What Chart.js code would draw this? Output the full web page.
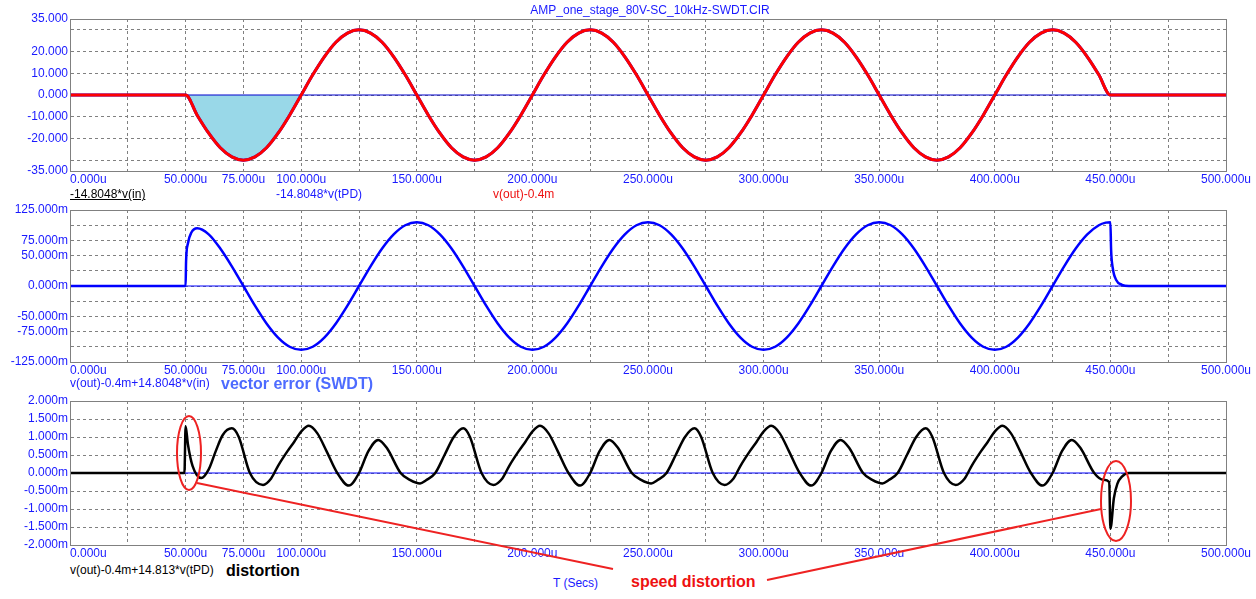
<!DOCTYPE html>
<html>
<head>
<meta charset="utf-8">
<script src="https://cdn.jsdelivr.net/npm/chart.js@4.4.1/dist/chart.umd.min.js"></script>
<style>
  body { margin: 0; background: #fff; font-family: "Liberation Sans", Arial, sans-serif; }
  #wrap { position: relative; width: 1256px; height: 599px; overflow: hidden; }
  canvas { position: absolute; left: 0; }
  .t { position: absolute; white-space: nowrap; font-size: 12px; line-height: 14px; }
  .b { font-weight: bold; font-size: 16px; line-height: 18px; }
  svg { position: absolute; left: 0; top: 0; }
</style>
</head>
<body>
<div id="wrap">
  <canvas id="c1" width="1256" height="186" style="top:0"></canvas>
  <canvas id="c2" width="1256" height="186" style="top:190px"></canvas>
  <canvas id="c3" width="1256" height="180" style="top:380px"></canvas>

  <div class="t" style="left:0;width:1300px;text-align:center;top:3px;color:#1a1aff">AMP_one_stage_80V-SC_10kHz-SWDT.CIR</div>
  <div class="t" style="left:70px;top:187px;color:#000;text-decoration:underline">-14.8048*v(in)</div>
  <div class="t" style="left:276px;top:187px;color:#1a1aff">-14.8048*v(tPD)</div>
  <div class="t" style="left:493px;top:187px;color:#ee1111">v(out)-0.4m</div>

  <div class="t" style="left:70px;top:376px;color:#1a1aff">v(out)-0.4m+14.8048*v(in)</div>
  <div class="t b" style="left:221px;top:375px;color:#4d6bff">vector error (SWDT)</div>

  <div class="t" style="left:70px;top:563px;color:#000">v(out)-0.4m+14.813*v(tPD)</div>
  <div class="t b" style="left:226px;top:562px;color:#000">distortion</div>
  <div class="t" style="left:553px;top:576px;color:#1a1aff">T (Secs)</div>
  <div class="t b" style="left:631px;top:573px;color:#ee1111">speed distortion</div>

  <svg width="1256" height="599">
    <g fill="none" stroke="#ee2222" stroke-width="2">
      <ellipse cx="189" cy="453" rx="12" ry="37"/>
      <ellipse cx="1116" cy="501" rx="15" ry="40"/>
      <line x1="197" y1="483" x2="613" y2="569"/>
      <line x1="767" y1="580" x2="1101" y2="509"/>
    </g>
  </svg>
</div>

<script>
// time in microseconds
const topT = [0,5,10,15,20,25,30,35,40,45,
  50,55,60,65,70,75,80,85,90,95,100,105,110,115,120,125,130,135,140,145,
  150,155,160,165,170,175,180,185,190,195,200,205,210,215,220,225,230,235,240,245,
  250,255,260,265,270,275,280,285,290,295,300,305,310,315,320,325,330,335,340,345,
  350,355,360,365,370,375,380,385,390,395,400,405,410,415,420,425,430,435,440,445,
  450,455,460,465,470,475,480,485,490,495,500];
// v(out)-0.4m  (V)
const topV = [0,0,0,0,0,0,0,0,0,0,
  0,-9.3,-17.6,-24.3,-28.5,-30,-28.5,-24.3,-17.6,-9.3,0,9.3,17.6,24.3,28.5,30,28.5,24.3,17.6,9.3,
  0,-9.3,-17.6,-24.3,-28.5,-30,-28.5,-24.3,-17.6,-9.3,0,9.3,17.6,24.3,28.5,30,28.5,24.3,17.6,9.3,
  0,-9.3,-17.6,-24.3,-28.5,-30,-28.5,-24.3,-17.6,-9.3,0,9.3,17.6,24.3,28.5,30,28.5,24.3,17.6,9.3,
  0,-9.3,-17.6,-24.3,-28.5,-30,-28.5,-24.3,-17.6,-9.3,0,9.3,17.6,24.3,28.5,30,28.5,24.3,17.6,9.3,
  0,0,0,0,0,0,0,0,0,0,0];

// vector error (mV)
const errT = [0,50,50.2,51,52.5,55,60,65,70,75,
  80,85,90,95,100,105,110,115,120,125,130,135,140,145,150,155,160,165,170,175,
  180,185,190,195,200,205,210,215,220,225,230,235,240,245,250,255,260,265,270,275,
  280,285,290,295,300,305,310,315,320,325,330,335,340,345,350,355,360,365,370,375,
  380,385,390,395,400,405,410,415,420,425,430,435,440,445,
  448,450,450.3,451,452.5,455,458,500];
const errV = [0,0,40,70,88,95,85,61.7,32.4,0,
  -32.4,-61.7,-84.9,-99.9,-105,-99.9,-84.9,-61.7,-32.4,0,32.4,61.7,84.9,99.9,105,99.9,84.9,61.7,32.4,0,
  -32.4,-61.7,-84.9,-99.9,-105,-99.9,-84.9,-61.7,-32.4,0,32.4,61.7,84.9,99.9,105,99.9,84.9,61.7,32.4,0,
  -32.4,-61.7,-84.9,-99.9,-105,-99.9,-84.9,-61.7,-32.4,0,32.4,61.7,84.9,99.9,105,99.9,84.9,61.7,32.4,0,
  -32.4,-61.7,-84.9,-99.9,-105,-99.9,-84.9,-61.7,-32.4,0,32.4,61.7,84.9,99.9,
  104.2,105,60,30,10,2,0,0];

// distortion (mV)
const distT = [0,49.5,50,51,53,56.8,60,63,66,70,73,77.8,83.5,
  87,90,94,97,100,103.3,107,111,115.6,120.6,125,129,133.3,137,143,147,151.4,154,158,162,166,170.1,173,178,183.1,
  187,190,194,197,200,203.3,207,211,215.6,220.6,225,229,233.3,237,243,247,251.4,254,258,262,266,270.1,273,278,283.1,
  287,290,294,297,300,303.3,307,311,315.6,320.6,325,329,333.3,337,343,347,351.4,354,358,362,366,370.1,373,378,383.1,
  387,390,394,397,400,403.3,407,411,415.6,420.6,425,429,433.3,437,443,447,449.5,450,451.5,453,455,458,500];
const distV = [0,0,1.3,0.8,0.2,-0.14,0.1,0.6,1.05,1.24,1.0,0,-0.33,
  -0.15,0.2,0.6,0.87,1.15,1.31,1.1,0.6,0,-0.35,0,0.6,0.92,0.7,0,-0.19,-0.29,-0.2,0,0.5,1.0,1.24,1.0,0,-0.33,
  -0.15,0.2,0.6,0.87,1.15,1.31,1.1,0.6,0,-0.35,0,0.6,0.92,0.7,0,-0.19,-0.29,-0.2,0,0.5,1.0,1.24,1.0,0,-0.33,
  -0.15,0.2,0.6,0.87,1.15,1.31,1.1,0.6,0,-0.35,0,0.6,0.92,0.7,0,-0.19,-0.29,-0.2,0,0.5,1.0,1.24,1.0,0,-0.33,
  -0.15,0.2,0.6,0.87,1.15,1.31,1.1,0.6,0,-0.35,0,0.6,0.92,0.7,0,-0.19,-0.25,-1.55,-0.7,-0.3,-0.1,0,0];

const xLabelled = [0,50,75,100,150,200,250,300,350,400,450,500];
const topTicks = [-35,-30,-20,-10,0,10,20,30,35];
const topLabelled = [-35,-20,-10,0,10,20,35];
const errTicks = [-125,-100,-75,-50,-25,0,25,50,75,100,125];
const errLabelled = [-125,-75,-50,0,50,75,125];
const distTicks = [-2,-1.5,-1,-0.5,0,0.5,1,1.5,2];

const FONT = { family: "Liberation Sans, Arial, sans-serif", size: 12 };
const TICK = "#1a1aff";
const GRID = "#808080";

function pts(ts, vs) {
    return ts.map((t, i) => ({ x: t, y: vs[i] }));
}

function lineSet(data, color, width) {
    return {
        data: data, borderColor: color, borderWidth: width, pointRadius: 0,
        cubicInterpolationMode: "monotone", fill: false
    };
}

// solid frame around the plot area (grid lines are dashed)
const frame = {
    id: "frame",
    afterDatasetsDraw: c => {
        const a = c.chartArea, ctx = c.ctx;
        ctx.save();
        ctx.strokeStyle = GRID;
        ctx.lineWidth = 1;
        ctx.setLineDash([]);
        ctx.strokeRect(a.left + 0.5, a.top + 0.5, a.right - a.left, a.bottom - a.top);
        ctx.restore();
    }
};

function makeChart(id, datasets, yTicks, yLabelled, unit, padTop, xHeight) {
    return new Chart(document.getElementById(id), {
        type: "line",
        data: { datasets: datasets },
        options: {
            responsive: false, animation: false,
            layout: { padding: { top: padTop, right: 30, left: 0, bottom: 0 } },
            plugins: { legend: { display: false }, tooltip: { enabled: false } },
            scales: {
                x: {
                    type: "linear", min: 0, max: 500,
                    afterBuildTicks: s => { s.ticks = [0,25,50,75,100,125,150,175,200,225,250,275,300,325,350,375,400,425,450,475,500].map(v => ({ value: v })); },
                    afterFit: s => { s.height = xHeight; },
                    border: { color: GRID, width: 1, dash: [3, 3] },
                    grid: { color: GRID, lineWidth: 1, drawTicks: false },
                    ticks: {
                        font: FONT, color: TICK, padding: 1, maxRotation: 0, autoSkip: false,
                        callback: v => {
                            if (!xLabelled.includes(v)) return "";
                            if (v === 0) return "           0.000u";
                            return v.toFixed(3) + "u";
                        }
                    }
                },
                y: {
                    min: yTicks[0], max: yTicks[yTicks.length - 1],
                    afterBuildTicks: s => { s.ticks = yTicks.map(v => ({ value: v })); },
                    afterFit: s => { s.width = 70; },
                    border: { color: GRID, width: 1, dash: [3, 3] },
                    grid: { color: GRID, lineWidth: 1, drawTicks: false },
                    ticks: {
                        font: FONT, color: TICK, padding: 2, autoSkip: false,
                        callback: v => yLabelled.includes(v) ? v.toFixed(3) + unit : ""
                    }
                }
            }
        },
        plugins: [frame]
    });
}

// dataset 0 is drawn on top
const topData = pts(topT, topV);
makeChart("c1", [
    lineSet(topData, "#ff0000", 3),
    lineSet(topData, "#0000ff", 3),
    lineSet([{ x: 0, y: 0 }, { x: 500, y: 0 }], "#0000cc", 1),
    Object.assign(lineSet(topData.slice(10, 21), "rgba(0,0,0,0)", 0), { fill: "origin", backgroundColor: "#99d8e8" })
], topTicks, topLabelled, "", 19, 15);

makeChart("c2", [
    lineSet(pts(errT, errV), "#0000ff", 2.5),
    lineSet([{ x: 0, y: 0 }, { x: 500, y: 0 }], "#0000ff", 1)
], errTicks, errLabelled, "m", 20, 14);

makeChart("c3", [
    lineSet(pts(distT, distV), "#000000", 2.5),
    lineSet([{ x: 0, y: 0 }, { x: 500, y: 0 }], "#0000ff", 1)
], distTicks, distTicks, "m", 21, 15);
</script>
</body>
</html>
